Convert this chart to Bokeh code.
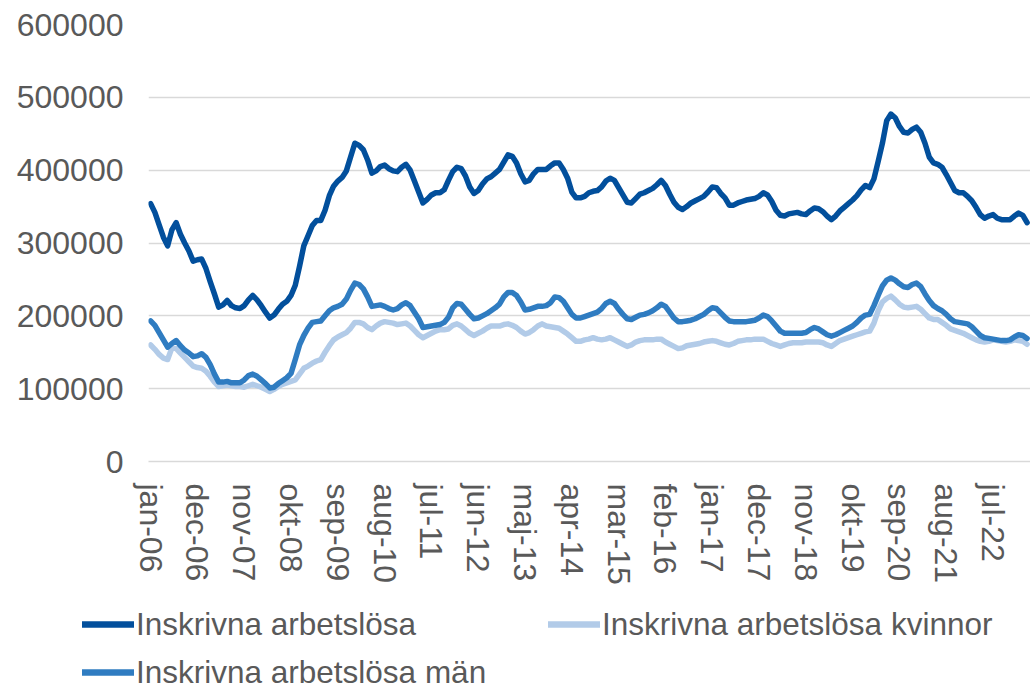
from bokeh.plotting import figure
from bokeh.layouts import column
from bokeh.models import Range1d, FixedTicker, NumeralTickFormatter, Legend, LegendItem, ColumnDataSource
from bokeh.embed import file_html
from bokeh.resources import INLINE

# x tick labels (every 11th month, starting jan-06)
tick_labels = ["jan-06", "dec-06", "nov-07", "okt-08", "sep-09", "aug-10", "jul-11",
               "jun-12", "maj-13", "apr-14", "mar-15", "feb-16", "jan-17", "dec-17",
               "nov-18", "okt-19", "sep-20", "aug-21", "jul-22"]
tick_step = 11

y_ticks = [0, 100000, 200000, 300000, 400000, 500000, 600000]

series_names = ["Inskrivna arbetslösa", "Inskrivna arbetslösa kvinnor", "Inskrivna arbetslösa män"]

# Inskrivna arbetslösa (total), monthly from jan-06
total = [
    354000, 342000, 325000, 308000, 296000, 318000, 328000, 312000, 300000, 289000, 275000, 277000,
    278000, 265000, 247000, 230000, 212000, 215000, 221000, 214000, 211000, 210000, 214000, 222000,
    228000, 222000, 214000, 205000, 197000, 201000, 209000, 216000, 220000, 228000, 242000, 268000,
    296000, 310000, 324000, 331000, 331000, 345000, 365000, 378000, 385000, 390000, 399000, 418000,
    437000, 434000, 428000, 414000, 396000, 399000, 405000, 407000, 402000, 399000, 398000, 404000,
    408000, 400000, 385000, 370000, 355000, 360000, 366000, 369000, 369000, 373000, 386000, 398000,
    404000, 402000, 392000, 377000, 368000, 372000, 381000, 388000, 391000, 396000, 401000, 411000,
    421000, 419000, 410000, 395000, 384000, 386000, 395000, 401000, 401000, 401000, 406000, 410000,
    410000, 401000, 389000, 370000, 362000, 362000, 364000, 369000, 371000, 372000, 377000, 385000,
    389000, 386000, 376000, 366000, 356000, 355000, 361000, 367000, 369000, 372000, 375000, 380000,
    386000, 379000, 367000, 356000, 349000, 346000, 350000, 355000, 358000, 361000, 364000, 370000,
    377000, 376000, 368000, 362000, 352000, 352000, 355000, 357000, 359000, 360000, 361000, 364000,
    369000, 366000, 357000, 345000, 338000, 337000, 340000, 341000, 342000, 340000, 339000, 344000,
    348000, 347000, 343000, 337000, 332000, 337000, 344000, 349000, 354000, 359000, 365000, 373000,
    379000, 376000, 388000, 412000, 437000, 468000, 477000, 472000, 460000, 452000, 451000, 456000,
    459000, 452000, 437000, 418000, 410000, 408000, 404000, 394000, 383000, 372000, 369000, 369000,
    364000, 358000, 349000, 339000, 334000, 337000, 339000, 334000, 332000, 332000, 332000, 337000,
    341000, 338000, 328000,
]

# Inskrivna arbetslösa kvinnor
kvinnor = [
    160000, 154000, 147000, 142000, 140000, 156000, 155000, 149000, 143000, 137000, 131000, 129000,
    128000, 124000, 117000, 109000, 103000, 104000, 105000, 104000, 103000, 103000, 102000, 104000,
    106000, 104000, 102000, 99000, 96000, 99000, 103000, 106000, 108000, 110000, 112000, 120000,
    128000, 131000, 135000, 138000, 140000, 150000, 159000, 167000, 171000, 174000, 177000, 183000,
    191000, 191000, 189000, 184000, 181000, 186000, 190000, 192000, 191000, 190000, 188000, 189000,
    190000, 186000, 180000, 174000, 170000, 173000, 176000, 179000, 181000, 181000, 182000, 187000,
    189000, 186000, 181000, 176000, 173000, 176000, 179000, 183000, 186000, 186000, 186000, 188000,
    189000, 187000, 184000, 179000, 175000, 177000, 181000, 186000, 189000, 186000, 185000, 184000,
    183000, 179000, 175000, 170000, 165000, 165000, 167000, 168000, 170000, 168000, 167000, 168000,
    170000, 167000, 164000, 161000, 158000, 160000, 164000, 166000, 167000, 167000, 167000, 168000,
    168000, 164000, 161000, 158000, 155000, 156000, 159000, 160000, 161000, 162000, 164000, 165000,
    166000, 165000, 163000, 161000, 160000, 162000, 165000, 166000, 167000, 167000, 168000, 168000,
    168000, 165000, 162000, 160000, 158000, 160000, 162000, 163000, 163000, 163000, 164000, 164000,
    164000, 164000, 163000, 160000, 158000, 162000, 166000, 168000, 170000, 172000, 174000, 176000,
    178000, 179000, 190000, 207000, 219000, 224000, 227000, 222000, 216000, 212000, 211000, 212000,
    213000, 209000, 203000, 197000, 195000, 195000, 191000, 187000, 182000, 180000, 178000, 176000,
    173000, 170000, 167000, 165000, 164000, 165000, 167000, 166000, 165000, 164000, 165000, 167000,
    166000, 165000, 161000,
]

# Inskrivna arbetslösa män
man = [
    193000, 187000, 177000, 167000, 157000, 162000, 166000, 159000, 153000, 149000, 144000, 145000,
    148000, 143000, 133000, 120000, 109000, 109000, 110000, 108000, 108000, 108000, 112000, 118000,
    120000, 117000, 112000, 107000, 101000, 102000, 107000, 111000, 115000, 121000, 140000, 160000,
    173000, 183000, 191000, 192000, 193000, 200000, 207000, 211000, 213000, 216000, 223000, 235000,
    245000, 243000, 237000, 226000, 213000, 214000, 215000, 213000, 210000, 208000, 210000, 215000,
    218000, 214000, 205000, 196000, 184000, 185000, 186000, 187000, 188000, 191000, 198000, 211000,
    217000, 216000, 209000, 202000, 196000, 197000, 200000, 203000, 207000, 211000, 216000, 226000,
    232000, 232000, 228000, 219000, 208000, 209000, 211000, 213000, 213000, 214000, 218000, 226000,
    225000, 220000, 211000, 202000, 197000, 197000, 199000, 201000, 203000, 205000, 210000, 217000,
    220000, 217000, 209000, 202000, 196000, 195000, 198000, 201000, 202000, 204000, 207000, 211000,
    216000, 213000, 205000, 197000, 192000, 192000, 193000, 194000, 196000, 199000, 202000, 207000,
    211000, 210000, 204000, 198000, 193000, 192000, 192000, 192000, 192000, 193000, 194000, 197000,
    201000, 199000, 193000, 186000, 179000, 176000, 176000, 176000, 176000, 176000, 177000, 181000,
    184000, 182000, 178000, 174000, 172000, 174000, 177000, 180000, 183000, 186000, 191000, 197000,
    201000, 202000, 214000, 228000, 241000, 249000, 252000, 249000, 244000, 240000, 239000, 243000,
    245000, 240000, 230000, 221000, 214000, 210000, 207000, 202000, 196000, 192000, 191000, 190000,
    189000, 185000, 179000, 173000, 170000, 169000, 168000, 167000, 166000, 166000, 167000, 171000,
    174000, 173000, 169000,
]

month_index = list(range(len(total)))

source = ColumnDataSource(data=dict(x=month_index, total=total, kvinnor=kvinnor, man=man))

FONT = "Liberation Sans"
TXT = "#595959"
c_total = "#024f9c"
c_kv = "#b2cbe8"
c_man = "#2f7cc1"
LW = 5.5

# ---------------- main chart ----------------
p = figure(width=1030, height=598, output_backend="svg", toolbar_location=None,
           x_range=Range1d(-0.5, 206.8), y_range=Range1d(0, 600000),
           min_border_left=148, min_border_right=0, min_border_top=24, min_border_bottom=137)
p.outline_line_color = None
p.background_fill_color = "white"
p.border_fill_color = "white"

p.xgrid.visible = False
p.ygrid.grid_line_color = "#d9d9d9"
p.ygrid.grid_line_width = 1.5
p.ygrid.ticker = FixedTicker(ticks=y_ticks)

p.yaxis.ticker = FixedTicker(ticks=y_ticks)
p.yaxis.formatter = NumeralTickFormatter(format="0")
p.yaxis.axis_line_color = None
p.yaxis.major_tick_line_color = None
p.yaxis.minor_tick_line_color = None
p.yaxis.major_tick_in = 0
p.yaxis.major_tick_out = 0
p.yaxis.major_label_standoff = 25
p.yaxis.major_label_text_font = FONT
p.yaxis.major_label_text_font_size = "32px"
p.yaxis.major_label_text_color = TXT

xt = [i * tick_step for i in range(len(tick_labels))]
p.xaxis.ticker = FixedTicker(ticks=xt)
p.xaxis.major_label_overrides = {t: lab for t, lab in zip(xt, tick_labels)}
p.xaxis.major_label_orientation = "vertical"
p.xaxis.axis_line_color = "#d9d9d9"
p.xaxis.axis_line_width = 1.5
p.xaxis.major_tick_line_color = None
p.xaxis.minor_tick_line_color = None
p.xaxis.major_tick_in = 0
p.xaxis.major_tick_out = 0
p.xaxis.major_label_standoff = 22
p.xaxis.major_label_text_font = FONT
p.xaxis.major_label_text_font_size = "32px"
p.xaxis.major_label_text_color = TXT

p.line("x", "total", source=source, line_color=c_total, line_width=LW,
       line_join="round", line_cap="round")
p.line("x", "kvinnor", source=source, line_color=c_kv, line_width=LW,
       line_join="round", line_cap="round")
p.line("x", "man", source=source, line_color=c_man, line_width=LW,
       line_join="round", line_cap="round")

# ---------------- legend strip ----------------
q = figure(width=1030, height=90, output_backend="svg", toolbar_location=None,
           x_range=Range1d(0, 1), y_range=Range1d(0, 1),
           x_axis_type=None, y_axis_type=None, min_border=0)
q.frame_align = False
q.outline_line_color = None
q.background_fill_color = "white"
q.border_fill_color = "white"

# the same series, drawn outside this strip's view; only their legend keys show
k_total = q.line("x", "total", source=source, line_color=c_total, line_width=6.5, line_cap="round")
k_kv = q.line("x", "kvinnor", source=source, line_color=c_kv, line_width=6.5, line_cap="round")
k_man = q.line("x", "man", source=source, line_color=c_man, line_width=6.5, line_cap="round")

def make_legend(items, loc):
    lg = Legend(items=items, location=loc, orientation="vertical")
    lg.glyph_width = 52
    lg.glyph_height = 48
    lg.label_height = 48
    lg.label_standoff = 2
    lg.spacing = 0
    lg.padding = 0
    lg.margin = 0
    lg.label_text_font = FONT
    lg.label_text_font_size = "31.5px"
    lg.label_text_color = TXT
    lg.background_fill_alpha = 0
    lg.border_line_alpha = 0
    return lg

leg_a = make_legend([LegendItem(label=series_names[0], renderers=[k_total]),
                     LegendItem(label=series_names[2], renderers=[k_man])], (82, -8))
leg_b = make_legend([LegendItem(label=series_names[1], renderers=[k_kv])], (548, 40))
q.add_layout(leg_a)
q.add_layout(leg_b)

layout = column(p, q, spacing=0)
open("out.html", "w").write(file_html(layout, INLINE))
